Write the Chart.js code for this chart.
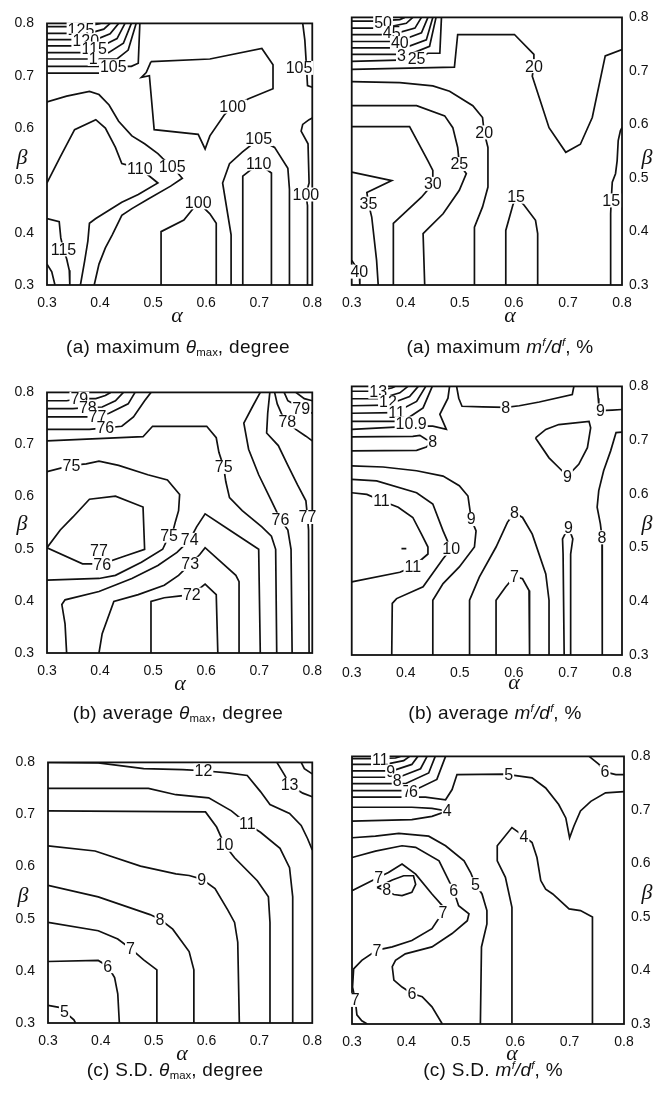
<!DOCTYPE html>
<html><head><meta charset="utf-8">
<script src="https://cdn.jsdelivr.net/npm/chart.js@4.4.0/dist/chart.umd.min.js"></script>
<style>
body{margin:0;background:#fff;width:664px;height:1100px;position:relative;overflow:hidden;font-family:"Liberation Sans",Arial,sans-serif;color:#111;}
.pane{position:absolute;width:332px;height:360px;}
.cap{position:absolute;font-size:19px;letter-spacing:0.3px;white-space:nowrap;transform:translate(-50%,-50%);}
.cap sub{font-size:60%;vertical-align:-3px;letter-spacing:0;}
.cap sup{font-size:60%;vertical-align:7px;letter-spacing:0;}
.gr{position:absolute;font-family:"Liberation Serif",serif;font-style:italic;font-size:22px;transform:translate(-50%,-50%);}
</style></head><body>
<script>
// ---------- data (alpha, beta) ----------
const tickValues = [0.3, 0.4, 0.5, 0.6, 0.7, 0.8];

// (a) maximum theta_max, degree
const maxThetaLines = [
 [[.300,.794],[.361,.794],[.392,.798],[.401,.800]],
 [[.300,.781],[.379,.781],[.407,.789],[.419,.800]],
 [[.300,.769],[.392,.769],[.419,.780],[.435,.800]],
 [[.300,.757],[.404,.757],[.432,.771],[.447,.800]],
 [[.300,.744],[.416,.744],[.444,.762],[.459,.800]],
 [[.300,.732],[.432,.732],[.453,.749],[.468,.800]],
 [[.300,.718],[.459,.718],[.472,.724],[.475,.800]],
 [[.300,.705],[.398,.705]],
 [[.496,.727],[.607,.732],[.705,.752],[.726,.721],[.726,.675],[.680,.656],[.650,.641],[.634,.625],[.607,.585],[.598,.560],[.585,.588],[.502,.597],[.493,.700],[.478,.697],[.487,.706],[.496,.727]],
 [[.300,.650],[.337,.661],[.380,.670],[.398,.664],[.417,.644],[.435,.613],[.460,.585],[.484,.570],[.509,.551],[.518,.542],[.536,.526],[.555,.504],[.533,.489],[.490,.464],[.460,.446],[.441,.433],[.423,.396],[.410,.371],[.398,.340],[.389,.300]],
 [[.300,.495],[.325,.545],[.352,.597],[.392,.616],[.410,.600],[.429,.563],[.441,.532],[.475,.523],[.509,.495],[.472,.473],[.441,.458],[.392,.427],[.380,.418],[.377,.384],[.371,.346],[.363,.300]],
 [[.300,.427],[.323,.421],[.326,.390],[.331,.368],[.337,.350],[.342,.328],[.343,.300]],
 [[.300,.340],[.309,.325],[.315,.300]],
 [[.515,.300],[.515,.402],[.558,.424],[.585,.458],[.607,.436],[.619,.418],[.619,.300]],
 [[.647,.300],[.647,.396],[.631,.495],[.644,.532],[.668,.554],[.699,.579],[.729,.563],[.754,.523],[.757,.483],[.757,.300]],
 [[.669,.300],[.669,.508],[.699,.532],[.723,.514],[.723,.300]],
 [[.791,.300],[.791,.452],[.788,.473],[.794,.495],[.792,.570],[.779,.594],[.782,.607],[.794,.616],[.800,.619]],
 [[.782,.800],[.786,.768],[.788,.735],[.790,.700],[.791,.681],[.800,.678]]
];
const maxThetaLabels = [
 ["125",.364,.789],["120",.373,.768],["115",.389,.752],["1",.387,.732],["105",.425,.718],
 ["100",.650,.641],["110",.475,.523],["105",.536,.526],["115",.331,.368],["100",.585,.458],
 ["105",.699,.579],["110",.699,.532],["100",.788,.473],["105",.775,.715]
];

// (a) maximum m/d, %
const maxMdLines = [
 [[.300,.793],[.340,.793],[.389,.796],[.398,.800]],
 [[.300,.780],[.358,.780],[.401,.789],[.413,.800]],
 [[.300,.768],[.374,.768],[.417,.780],[.429,.800]],
 [[.300,.755],[.386,.755],[.429,.771],[.441,.800]],
 [[.300,.743],[.398,.743],[.438,.758],[.450,.800]],
 [[.300,.731],[.407,.731],[.444,.746],[.456,.800]],
 [[.300,.718],[.420,.721],[.441,.733],[.463,.733],[.466,.800]],
 [[.300,.703],[.490,.707],[.496,.768],[.601,.768],[.637,.731],[.637,.709],[.634,.690],[.647,.650],[.665,.594],[.696,.548],[.723,.563],[.745,.613],[.769,.728],[.800,.740]],
 [[.300,.680],[.389,.678],[.450,.672],[.481,.662],[.524,.635],[.542,.613],[.545,.585],[.552,.557],[.552,.483],[.542,.446],[.527,.408],[.527,.300]],
 [[.300,.635],[.420,.635],[.472,.616],[.487,.594],[.496,.557],[.499,.526],[.512,.508],[.499,.477],[.469,.433],[.438,.402],[.432,.396],[.435,.300]],
 [[.300,.596],[.407,.596],[.441,.532],[.450,.514],[.450,.489],[.429,.464],[.377,.415],[.377,.300]],
 [[.300,.511],[.374,.495],[.328,.473],[.331,.452],[.337,.427],[.346,.346],[.349,.300]],
 [[.300,.346],[.314,.325],[.315,.300]],
 [[.585,.300],[.585,.402],[.598,.449],[.604,.465],[.619,.449],[.640,.421],[.644,.396],[.644,.300]],
 [[.779,.300],[.779,.433],[.780,.458],[.782,.492],[.788,.508],[.791,.532],[.793,.570],[.797,.588],[.800,.594]]
];
const maxMdLabels = [
 ["50",.358,.791],["45",.374,.771],["40",.389,.752],["3",.392,.728],["25",.420,.723],
 ["20",.637,.709],["20",.545,.585],["25",.499,.526],["30",.450,.489],["35",.331,.452],
 ["40",.314,.325],["15",.604,.465],["15",.780,.458]
];

// (b) average theta_max, degree
const avgThetaLines = [
 [[.300,.784],[.337,.784],[.361,.788],[.392,.788],[.410,.794],[.420,.800]],
 [[.300,.769],[.349,.769],[.377,.771],[.404,.772],[.429,.784],[.444,.800]],
 [[.300,.753],[.367,.753],[.395,.753],[.417,.760],[.453,.778],[.466,.800]],
 [[.300,.729],[.380,.729],[.410,.732],[.441,.735],[.463,.753],[.484,.784],[.496,.800]],
 [[.300,.707],[.481,.715],[.499,.735],[.601,.735],[.619,.713],[.624,.685],[.633,.657],[.637,.629],[.644,.598],[.668,.573],[.705,.542],[.723,.524],[.731,.499],[.733,.300]],
 [[.702,.800],[.687,.772],[.671,.741],[.680,.691],[.699,.642],[.723,.592],[.740,.556],[.754,.536],[.760,.499],[.762,.300]],
 [[.720,.800],[.716,.760],[.714,.722],[.736,.698],[.754,.660],[.772,.623],[.788,.592],[.791,.561],[.793,.536],[.794,.300]],
 [[.729,.800],[.734,.778],[.743,.757],[.753,.744],[.769,.729],[.788,.716],[.800,.707]],
 [[.747,.800],[.754,.784],[.779,.769],[.800,.760]],
 [[.769,.800],[.785,.788],[.800,.784]],
 [[.300,.648],[.346,.660],[.374,.663],[.398,.668],[.435,.660],[.490,.642],[.527,.632],[.550,.604],[.548,.573],[.542,.552],[.538,.536],[.530,.525],[.518,.499],[.478,.474],[.429,.449],[.398,.443],[.300,.440]],
 [[.300,.502],[.325,.536],[.349,.561],[.380,.595],[.429,.601],[.481,.580],[.484,.499],[.447,.486],[.404,.471],[.367,.471],[.300,.502]],
 [[.337,.300],[.334,.356],[.328,.393],[.334,.402],[.398,.418],[.460,.443],[.509,.468],[.545,.493],[.569,.517],[.582,.542],[.598,.567],[.644,.536],[.699,.499],[.702,.300]],
 [[.398,.300],[.404,.337],[.426,.399],[.472,.412],[.521,.430],[.548,.449],[.570,.471],[.588,.489],[.598,.502],[.656,.449],[.662,.437],[.662,.300]],
 [[.496,.300],[.496,.399],[.521,.406],[.548,.409],[.573,.412],[.598,.432],[.619,.412],[.622,.300]]
];
const avgThetaLabels = [
 ["79",.361,.788],["78",.377,.771],["77",.395,.753],["76",.410,.732],["75",.633,.657],
 ["76",.740,.556],["77",.791,.561],["78",.753,.744],["79",.779,.769],["75",.346,.660],
 ["75",.530,.525],["74",.569,.517],["77",.398,.496],["76",.404,.469],["73",.570,.471],["72",.573,.412]
];

// (b) average m/d, %
const avgMdLines = [
 [[.300,.791],[.331,.791],[.358,.794],[.374,.797],[.380,.800]],
 [[.300,.777],[.352,.777],[.389,.788],[.404,.800]],
 [[.300,.764],[.364,.765],[.407,.781],[.423,.800]],
 [[.300,.750],[.380,.751],[.420,.772],[.437,.800]],
 [[.300,.735],[.395,.735],[.432,.760],[.449,.800]],
 [[.300,.720],[.417,.726],[.450,.726],[.475,.720],[.463,.748],[.478,.778],[.481,.800]],
 [[.300,.706],[.413,.707],[.426,.709],[.438,.701],[.450,.698],[.438,.687],[.420,.681],[.300,.680]],
 [[.494,.800],[.498,.778],[.504,.763],[.542,.762],[.585,.761],[.610,.764],[.647,.771],[.708,.785],[.711,.800]],
 [[.754,.800],[.756,.778],[.757,.766],[.760,.755],[.782,.756],[.800,.757]],
 [[.640,.704],[.659,.720],[.683,.729],[.739,.735],[.742,.723],[.736,.686],[.720,.655],[.699,.633],[.683,.649],[.665,.667],[.640,.704]],
 [[.800,.715],[.789,.714],[.779,.680],[.766,.643],[.757,.606],[.754,.575],[.760,.544],[.763,.519],[.763,.488],[.764,.300]],
 [[.693,.300],[.691,.488],[.690,.516],[.701,.538],[.709,.516],[.705,.488],[.705,.300]],
 [[.518,.300],[.518,.402],[.536,.445],[.567,.501],[.588,.547],[.601,.565],[.616,.556],[.634,.525],[.659,.451],[.665,.402],[.665,.300]],
 [[.567,.300],[.567,.402],[.585,.427],[.601,.446],[.616,.442],[.628,.420],[.629,.300]],
 [[.300,.652],[.358,.650],[.420,.643],[.469,.633],[.499,.615],[.515,.596],[.518,.575],[.521,.553],[.530,.531],[.527,.501],[.499,.464],[.469,.433],[.450,.402],[.450,.300]],
 [[.300,.627],[.346,.624],[.420,.602],[.450,.581],[.469,.531],[.478,.510],[.484,.498],[.469,.479],[.432,.427],[.383,.405],[.375,.396],[.374,.300]],
 [[.300,.602],[.328,.599],[.355,.587],[.386,.575],[.413,.556],[.429,.525],[.441,.501],[.441,.488],[.413,.464],[.389,.454],[.300,.436]],
 [[.392,.498],[.401,.498]]
];
const avgMdLabels = [
 ["13",.349,.790],["12",.367,.771],["11",.383,.752],["10.9",.410,.731],
 ["8",.450,.698],["8",.585,.761],["9",.760,.755],["9",.699,.633],["8",.763,.519],
 ["9",.701,.538],["8",.601,.565],["7",.601,.446],["9",.521,.553],["10",.484,.498],
 ["11",.355,.587],["11",.413,.464]
];

// (c) S.D. theta_max, degree
const sdThetaLines = [
 [[.300,.800],[.395,.799],[.481,.788],[.555,.786],[.594,.784],[.640,.780],[.677,.775],[.702,.744],[.720,.719],[.757,.702],[.779,.679],[.791,.654],[.800,.632]],
 [[.733,.800],[.748,.775],[.757,.757],[.782,.741],[.800,.734]],
 [[.779,.800],[.785,.788],[.800,.778]],
 [[.300,.750],[.490,.750],[.542,.738],[.604,.732],[.647,.707],[.677,.682],[.702,.666],[.739,.635],[.757,.598],[.763,.542],[.763,.300]],
 [[.300,.707],[.598,.705],[.619,.676],[.634,.642],[.653,.617],[.696,.573],[.717,.542],[.720,.493],[.720,.300]],
 [[.300,.640],[.389,.630],[.475,.601],[.542,.586],[.567,.583],[.591,.576],[.616,.558],[.640,.517],[.653,.493],[.659,.455],[.662,.300]],
 [[.300,.564],[.395,.542],[.493,.508],[.512,.499],[.536,.480],[.567,.437],[.576,.402],[.576,.300]],
 [[.300,.493],[.395,.477],[.432,.461],[.456,.443],[.481,.421],[.506,.402],[.506,.300]],
 [[.300,.418],[.395,.420],[.413,.409],[.426,.387],[.432,.356],[.435,.300]],
 [[.300,.334],[.321,.330],[.331,.322],[.349,.306],[.352,.300]]
];
const sdThetaLabels = [
 ["12",.594,.784],["13",.757,.757],["11",.677,.682],["10",.634,.642],["9",.591,.576],
 ["8",.512,.499],["7",.456,.443],["6",.413,.409],["5",.331,.322]
];

// (c) S.D. m/d, %
const sdMdLines = [
 [[.300,.796],[.343,.796],[.380,.797],[.389,.800]],
 [[.300,.785],[.361,.785],[.395,.792],[.406,.800]],
 [[.300,.773],[.374,.773],[.410,.785],[.421,.800]],
 [[.300,.761],[.386,.761],[.426,.777],[.438,.800]],
 [[.300,.749],[.398,.749],[.441,.769],[.453,.800]],
 [[.300,.736],[.413,.736],[.456,.757],[.472,.800]],
 [[.300,.724],[.435,.724],[.472,.719],[.484,.738],[.493,.766],[.582,.767],[.588,.766],[.631,.760],[.656,.741],[.680,.710],[.693,.685],[.700,.648],[.708,.670],[.720,.698],[.739,.716],[.766,.732],[.800,.734]],
 [[.736,.800],[.754,.785],[.765,.771],[.785,.766],[.800,.766]],
 [[.300,.705],[.410,.705],[.447,.703],[.475,.698],[.447,.688],[.410,.682],[.300,.679]],
 [[.594,.301],[.594,.518],[.582,.574],[.567,.605],[.567,.633],[.594,.667],[.616,.651],[.631,.639],[.640,.611],[.647,.568],[.656,.552],[.669,.543],[.699,.515],[.720,.512],[.742,.500],[.742,.300]],
 [[.300,.648],[.343,.651],[.386,.656],[.441,.651],[.472,.633],[.506,.605],[.518,.583],[.527,.561],[.539,.543],[.548,.512],[.548,.487],[.538,.444],[.536,.300]],
 [[.300,.611],[.343,.623],[.392,.633],[.417,.630],[.460,.605],[.475,.574],[.487,.549],[.496,.521],[.515,.506],[.512,.493],[.484,.469],[.447,.444],[.398,.431],[.380,.419],[.374,.407],[.377,.382],[.392,.369],[.410,.357],[.429,.351],[.447,.332],[.466,.300]],
 [[.300,.549],[.331,.565],[.349,.574],[.367,.583],[.392,.599],[.417,.580],[.447,.543],[.466,.521],[.467,.509],[.447,.478],[.410,.456],[.374,.444],[.346,.438],[.318,.419],[.303,.403],[.301,.369],[.306,.345],[.309,.317],[.318,.306],[.328,.300]],
 [[.346,.555],[.374,.569],[.395,.577],[.413,.577],[.417,.561],[.410,.546],[.392,.540],[.377,.542],[.361,.549],[.346,.555]]
];
const sdMdLabels = [
 ["11",.352,.794],["9",.371,.772],["8",.383,.755],["7",.401,.735],["6",.413,.734],
 ["5",.588,.766],["6",.765,.771],["4",.475,.698],["4",.616,.651],["5",.527,.561],
 ["6",.487,.549],["6",.410,.357],["7",.349,.574],["7",.467,.509],["7",.346,.438],
 ["7",.306,.345],["8",.364,.552]
];

// ---------- layout ----------
const panels = [
 {lines:maxThetaLines, labels:maxThetaLabels, box:[47,16,318,285],  side:'left'},
 {lines:maxMdLines,    labels:maxMdLabels,    box:[350,16,622,285], side:'right'},
 {lines:avgThetaLines, labels:avgThetaLabels, box:[47,385,318,653], side:'left'},
 {lines:avgMdLines,    labels:avgMdLabels,    box:[350,385,622,655],side:'right'},
 {lines:sdThetaLines,  labels:sdThetaLabels,  box:[48,755,320,1023], side:'left'},
 {lines:sdMdLines,     labels:sdMdLabels,     box:[352,755,624,1024],side:'right'}
];
const INK = '#111';
const tickFont = {family:'"Liberation Sans", Arial, sans-serif', size:14};

function labelPlugin(labels){
  return {
    id:'contourFrame',
    beforeDatasetsDraw(chart){
      const {ctx, chartArea:a} = chart;
      ctx.save(); ctx.strokeStyle = INK; ctx.lineWidth = 1.8;
      ctx.strokeRect(a.left, a.top, a.right-a.left, a.bottom-a.top);
      ctx.restore();
    },
    afterDatasetsDraw(chart){
      const {ctx, scales} = chart;
      ctx.save();
      ctx.font = '16px "Liberation Sans", Arial, sans-serif';
      ctx.textAlign = 'center'; ctx.textBaseline = 'middle';
      labels.forEach(([t,a,b])=>{
        const px = scales.x.getPixelForValue(a), py = scales.y.getPixelForValue(b);
        const w = ctx.measureText(t).width;
        ctx.fillStyle = '#fff';
        ctx.fillRect(px - w/2 - 1, py - 7, w + 2, 14);
        ctx.fillStyle = INK;
        ctx.fillText(t, px, py + 1);
      });
      ctx.restore();
    }
  };
}

function build(p){
  const [x0,y0,x1,y1] = p.box;
  const isLeft = p.side === 'left';
  const cx = isLeft ? 0 : 332, cy = y0 - 14;
  const wrap = document.createElement('div'); wrap.className = 'pane';
  wrap.style.left = cx + 'px'; wrap.style.top = cy + 'px';
  const cv = document.createElement('canvas'); cv.width = 332; cv.height = 360;
  wrap.appendChild(cv); document.body.appendChild(wrap);
  const yW = isLeft ? (x0 - cx) : (cx + 332 - x1);
  const xH = 360 - 14 - (y1 - y0);
  const setTicks = s => { s.ticks = tickValues.map(v => ({value:v})); };
  new Chart(cv, {
    type:'scatter',
    data:{datasets:p.lines.map(pts => ({
      data:pts.map(q => ({x:q[0], y:q[1]})),
      showLine:true, borderColor:INK, borderWidth:1.7, pointRadius:0, tension:0, fill:false
    }))},
    options:{
      responsive:false, animation:false, devicePixelRatio:1,
      layout:{padding:{left:isLeft?0:(x0-cx), right:isLeft?(cx+332-x1):0, top:14, bottom:0}},
      plugins:{legend:{display:false}, tooltip:{enabled:false}},
      scales:{
        x:{type:'linear', min:0.3, max:0.8,
           grid:{display:false, drawTicks:false}, border:{display:false},
           ticks:{padding:10, font:tickFont, color:INK, autoSkip:false, maxRotation:0, callback:v=>v.toFixed(1)},
           afterBuildTicks:setTicks, afterFit:s=>{s.height = xH;}},
        y:{type:'linear', position:isLeft?'left':'right', min:0.3, max:0.8,
           grid:{display:false, drawTicks:false}, border:{display:false},
           ticks:{padding:isLeft?13:7, font:tickFont, color:INK, autoSkip:false, callback:v=>v.toFixed(1)},
           afterBuildTicks:setTicks, afterFit:s=>{s.width = yW;}}
      }
    },
    plugins:[labelPlugin(p.labels)]
  });
}
panels.forEach(build);

// ---------- text ----------
function addText(cls, html, x, y){
  const d = document.createElement('div'); d.className = cls; d.innerHTML = html;
  d.style.left = x + 'px'; d.style.top = y + 'px'; document.body.appendChild(d);
}
const alphaPos = [[177,315],[510,315],[180,683],[514,682],[182,1053],[512,1053]];
const betaPos  = [[22,157],[647,157],[22,523],[647,523],[23,895],[647,892]];
alphaPos.forEach(([x,y]) => addText('gr','α',x,y));
betaPos.forEach(([x,y]) => addText('gr','β',x,y));
const th = '<i>θ</i><sub>max</sub>';
const md = '<i>m<sup>f</sup>/d<sup>f</sup></i>';
addText('cap','(a) maximum '+th+', degree',178,347);
addText('cap','(a) maximum '+md+', %',500,347);
addText('cap','(b) average '+th+', degree',178,713);
addText('cap','(b) average '+md+', %',495,713);
addText('cap','(c) S.D. '+th+', degree',175,1070);
addText('cap','(c) S.D. '+md+', %',493,1070);
</script>
</body></html>
